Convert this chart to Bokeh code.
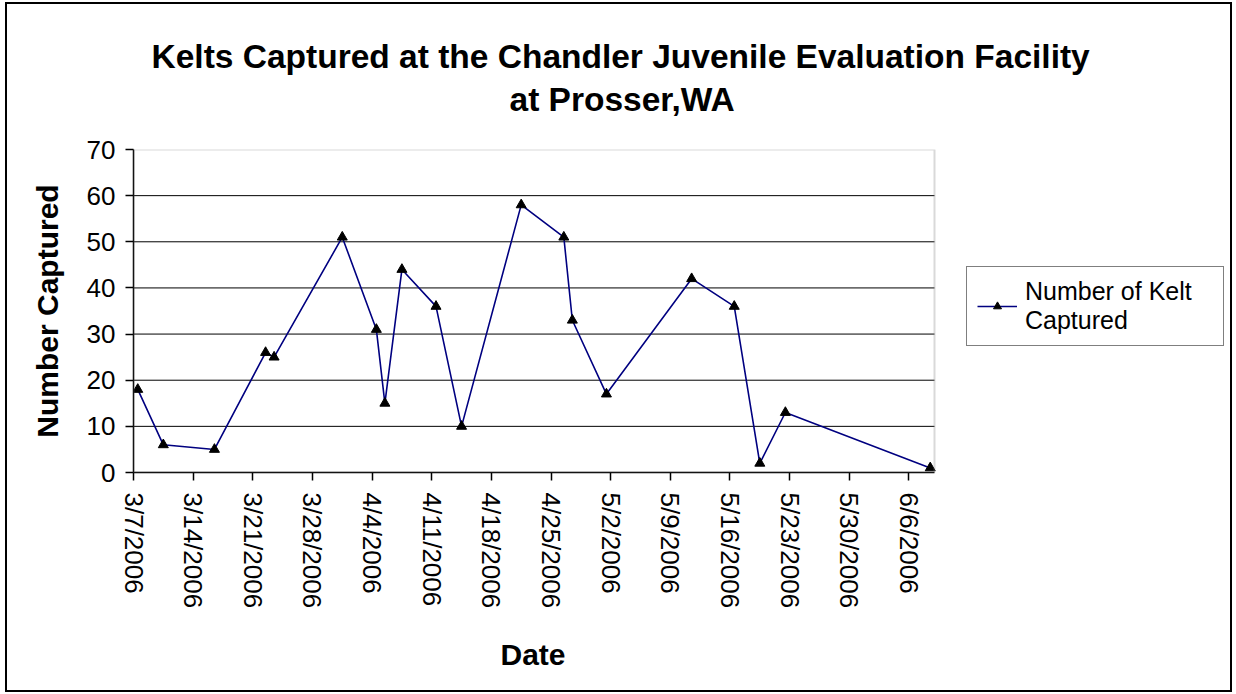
import pandas as pd
from bokeh.plotting import figure
from bokeh.models import (FixedTicker, CustomJSTickFormatter, Range1d, Title,
                          Legend, LegendItem, BoxAnnotation)
from bokeh.embed import file_html
from bokeh.resources import INLINE

# ---- data ----
dates = ["3/7/2006", "3/10/2006", "3/16/2006", "3/22/2006", "3/23/2006",
         "3/31/2006", "4/4/2006", "4/5/2006", "4/7/2006", "4/11/2006",
         "4/14/2006", "4/21/2006", "4/26/2006", "4/27/2006", "5/1/2006",
         "5/11/2006", "5/16/2006", "5/19/2006", "5/22/2006", "6/8/2006"]
captured = [18, 6, 5, 26, 25, 51, 31, 15, 44, 36, 10, 58, 51, 33, 17, 42, 36, 2, 13, 1]
tick_dates = ["3/7/2006", "3/14/2006", "3/21/2006", "3/28/2006", "4/4/2006",
              "4/11/2006", "4/18/2006", "4/25/2006", "5/2/2006", "5/9/2006",
              "5/16/2006", "5/23/2006", "5/30/2006", "6/6/2006"]
y_ticks = [0, 10, 20, 30, 40, 50, 60, 70]
x_start, x_end = "3/7/2006", "6/9/2006"

title_lines = ["Kelts Captured at the Chandler Juvenile Evaluation Facility", "at Prosser,WA"]
x_title = "Date"
y_title = "Number Captured"
series_name = "Number of Kelt\nCaptured"

FONT = "Liberation Sans"

# ---- layout constants (pixels) ----
W, H = 1227, 690
BORDER_L, BORDER_R, BORDER_T, BORDER_B = 126, 2, 145, 222
PLOT_W = 801                       # width of the chart's plot area
FRAME_W = W - BORDER_L - BORDER_R  # frame also holds the legend on its right

fmt = "%m/%d/%Y"
xs = pd.to_datetime(dates, format=fmt) + pd.Timedelta(hours=12)  # mid-day (Excel date axis)
tick_ms = [int(t.timestamp() * 1000) for t in pd.to_datetime(tick_dates, format=fmt)]
x0 = pd.to_datetime(x_start, format=fmt)
x1 = pd.to_datetime(x_end, format=fmt)
x_view_end = x0 + (x1 - x0) * (FRAME_W / PLOT_W)
x0_ms = x0.timestamp() * 1000
x1_ms = x1.timestamp() * 1000

p = figure(width=W, height=H, output_backend="svg", toolbar_location=None,
           x_axis_type="datetime",
           x_range=Range1d(x0, x_view_end), y_range=Range1d(y_ticks[0], y_ticks[-1]),
           min_border_left=BORDER_L, min_border_right=BORDER_R,
           min_border_top=BORDER_T, min_border_bottom=BORDER_B)
p.styles = {"border": "2px solid black", "margin-left": "5px", "margin-top": "2px"}

# horizontal gridlines, limited to the plot area
p.segment(x0=[x0_ms] * (len(y_ticks) - 2), x1=[x1_ms] * (len(y_ticks) - 2),
          y0=y_ticks[1:-1], y1=y_ticks[1:-1], line_color="black", line_width=1)

line_r = p.line(xs, captured, line_color="#000080", line_width=1.6)
mark_r = p.scatter(xs, captured, marker="triangle", size=10, fill_color="black",
                   line_color="black")

# plot-area border (grey, like Excel)
p.add_layout(BoxAnnotation(left=x0_ms, right=x1_ms, bottom=y_ticks[0], top=y_ticks[-1],
                           fill_alpha=0, line_color="#808080", line_width=2))

# axes
p.xaxis.ticker = FixedTicker(ticks=tick_ms)
p.xaxis.bounds = (x0_ms, x1_ms)
p.xaxis.formatter = CustomJSTickFormatter(code="""
const d = new Date(tick);
return (d.getUTCMonth()+1) + '/' + d.getUTCDate() + '/' + d.getUTCFullYear();
""")
p.xaxis.major_label_orientation = "vertical"
p.yaxis.ticker = FixedTicker(ticks=y_ticks)
for ax in (p.xaxis[0], p.yaxis[0]):
    ax.major_label_text_font = FONT
    ax.major_label_text_font_size = "26px"
    ax.major_label_text_color = "black"
    ax.axis_line_color = "black"
    ax.axis_line_width = 1.5
    ax.major_tick_line_color = "black"
    ax.major_tick_line_width = 1.5
    ax.major_tick_in = 0
    ax.major_tick_out = 8
    ax.minor_tick_line_color = None
    ax.axis_label_text_font = FONT
    ax.axis_label_text_font_style = "bold"
    ax.axis_label_text_font_size = "30px"
    ax.axis_label_text_color = "black"
p.yaxis.axis_label = y_title
p.yaxis.major_label_standoff = 10
p.xaxis.major_label_standoff = 12
p.yaxis.axis_label_standoff = 20

# x-axis title centred under the plot area (not the whole frame)
p.add_layout(Title(text=x_title, align="left", offset=367, vertical_align="bottom",
                   text_font=FONT, text_font_style="bold", text_font_size="30px",
                   text_color="black", standoff=48), "below")

p.xgrid.grid_line_color = None
p.ygrid.grid_line_color = None
p.outline_line_color = None
p.background_fill_color = "white"
p.border_fill_color = "white"

# spacer between frame and title, then the two title lines (nearest first)
p.add_layout(Title(text=" ", text_font_size="2px", standoff=26), "above")
p.add_layout(Title(text=title_lines[1], align="left", offset=376,
                   text_font=FONT, text_font_style="bold", text_font_size="33.5px",
                   text_color="black", standoff=4), "above")
p.add_layout(Title(text=title_lines[0], align="left", offset=18,
                   text_font=FONT, text_font_style="bold", text_font_size="33.5px",
                   text_color="black", standoff=4), "above")

legend = Legend(items=[LegendItem(label=series_name, renderers=[line_r, mark_r])],
                location=(PLOT_W + 32, 126), orientation="vertical")
legend.label_text_font = FONT
legend.label_text_font_size = "25px"
legend.label_text_color = "black"
legend.glyph_width = 40
legend.label_standoff = 8
legend.label_width = 188
legend.padding = 10
legend.margin = 0
legend.border_line_color = "black"
legend.border_line_width = 1.5
legend.background_fill_color = "white"
legend.background_fill_alpha = 1
p.add_layout(legend, "center")

open("out.html", "w").write(file_html(p, INLINE))
